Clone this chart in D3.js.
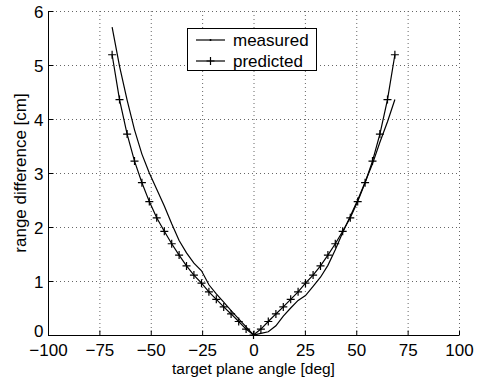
<!DOCTYPE html>
<html><head><meta charset="utf-8">
<script src="https://cdn.jsdelivr.net/npm/d3@7"></script>
<style>body{margin:0;background:#fff}svg{display:block}text{font-family:"Liberation Sans",Arial,sans-serif;fill:#000}</style>
</head><body>
<svg id="c" width="482" height="378"></svg>
<script>
const angles = [-68.8,-65.2,-61.5,-57.9,-54.3,-50.7,-47.1,-43.4,-39.8,-36.2,-32.6,-29.0,-25.3,-21.7,-18.1,-14.5,-10.9,-7.2,-3.6,0,
  3.6,7.2,10.9,14.5,18.1,21.7,25.3,29.0,32.6,36.2,39.8,43.4,47.1,50.7,54.3,57.9,61.5,65.2,68.8];
const measured = [5.70,4.98,4.35,3.80,3.35,3.00,2.70,2.39,2.06,1.75,1.52,1.33,1.19,0.93,0.76,0.61,0.45,0.30,0.15,0,
  0.03,0.06,0.17,0.35,0.50,0.64,0.73,0.90,1.07,1.29,1.58,1.90,2.20,2.50,2.83,3.17,3.57,3.95,4.36];
const predicted = [5.19,4.36,3.72,3.22,2.82,2.47,2.17,1.92,1.69,1.48,1.28,1.11,0.96,0.80,0.66,0.52,0.39,0.25,0.11,0,
  0.11,0.25,0.39,0.52,0.66,0.80,0.96,1.11,1.28,1.48,1.69,1.92,2.17,2.47,2.82,3.22,3.72,4.36,5.19];
const xTicks = [-100,-75,-50,-25,0,25,50,75,100];
const yTicks = [0,1,2,3,4,5,6];
const xLabel = "target plane angle [deg]";
const yLabel = "range difference [cm]";
const legendLabels = ["measured","predicted"];

const svg = d3.select("#c");
const x = d3.scaleLinear().domain([-100,100]).range([48,459]);
const y = d3.scaleLinear().domain([0,6]).range([335,11]);
const FS = 17;

// grid
const g = svg.append("g");
g.selectAll("line.gx").data(xTicks.filter(d=>d>-100)).enter().append("line")
  .attr("x1",d=>x(d)+0.5).attr("x2",d=>x(d)+0.5).attr("y1",y(6)).attr("y2",y(0))
  .attr("stroke","#666").attr("stroke-dasharray","1,3");
g.selectAll("line.gy").data(yTicks.filter(d=>d>0)).enter().append("line")
  .attr("y1",d=>Math.round(y(d))+0.5).attr("y2",d=>Math.round(y(d))+0.5).attr("x1",x(-100)).attr("x2",x(100))
  .attr("stroke","#666").attr("stroke-dasharray","1,3");

// axes
const xAxis = d3.axisBottom(x).tickValues(xTicks).tickSize(-5).tickPadding(0)
  .tickFormat(d=>d<0?"\u2212"+Math.abs(d):String(d));
const ax = svg.append("g").attr("transform","translate(0,335.5)").call(xAxis);
ax.select(".domain").attr("d",`M${x(-100)},0H${x(100)}`);
ax.selectAll("text").attr("font-size",FS).attr("font-family",null).attr("y",20.5).attr("dy",null);
const yAxis = d3.axisLeft(y).tickValues(yTicks).tickSize(-5).tickPadding(5).tickFormat(d3.format("d"));
const ay = svg.append("g").attr("transform","translate(48.5,0)").call(yAxis);
ay.select(".domain").attr("d",`M0,${y(0)}V${y(6)}`);
ay.selectAll("text").attr("font-size",FS).attr("font-family",null).attr("dy",d=>d===0?"0.1em":"0.36em");
svg.selectAll(".domain").attr("stroke","#000");
svg.selectAll(".tick line").attr("stroke","#000");

svg.append("text").attr("x",253.5).attr("y",373.5).attr("text-anchor","middle").attr("font-size",15.5).text(xLabel);
svg.append("text").attr("transform","translate(26,173) rotate(-90)").attr("text-anchor","middle").attr("font-size",FS).text(yLabel);

// lines
const line = d3.line().x(d=>x(d[0])).y(d=>y(d[1]));
const mData = angles.map((a,i)=>[a,measured[i]]);
const pData = angles.map((a,i)=>[a,predicted[i]]);
svg.append("path").attr("d",line(mData)).attr("fill","none").attr("stroke","#000").attr("stroke-width",1.2);
svg.append("path").attr("d",line(pData)).attr("fill","none").attr("stroke","#000").attr("stroke-width",1.2);
const plus = (sel,cx,cy,s)=>{
  sel.append("path").attr("d",`M${cx-s},${cy}H${cx+s}M${cx},${cy-s}V${cy+s}`).attr("stroke","#000").attr("stroke-width",1.2);
};
pData.forEach(d=>plus(svg,x(d[0]),y(d[1]),4));

// legend
const lg = svg.append("g");
lg.append("rect").attr("x",187.5).attr("y",28.5).attr("width",129).attr("height",42).attr("fill","#fff").attr("stroke","#000");
lg.append("line").attr("x1",196).attr("x2",225).attr("y1",40).attr("y2",40).attr("stroke","#000").attr("stroke-width",1.2);
lg.append("circle").attr("cx",210.5).attr("cy",40).attr("r",1).attr("fill","#000");
lg.append("line").attr("x1",196).attr("x2",225).attr("y1",61).attr("y2",61).attr("stroke","#000").attr("stroke-width",1.2);
plus(lg,210.5,61,4);
lg.selectAll("text.l").data(legendLabels).enter().append("text")
  .attr("x",233).attr("y",(d,i)=>40+i*21).attr("dy","0.35em").attr("font-size",FS).text(d=>d);
</script>
</body></html>
